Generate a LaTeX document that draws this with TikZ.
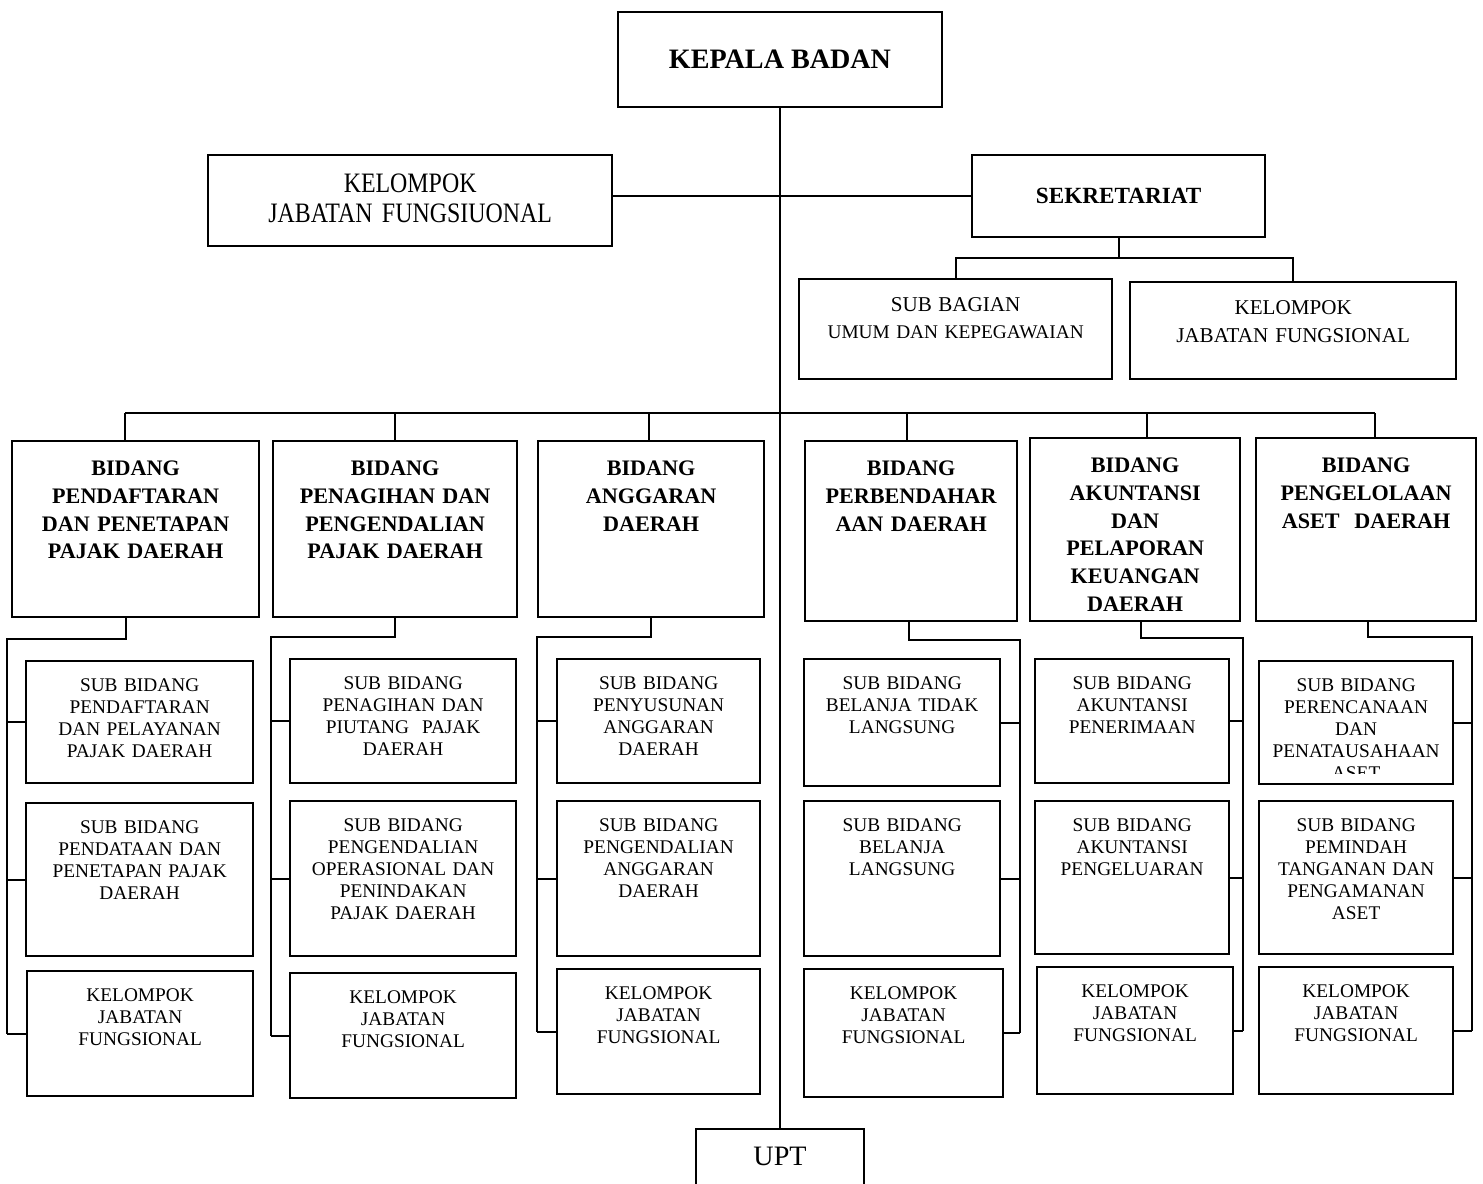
\documentclass[tikz,border=0pt]{standalone}
\usepackage{fontspec}
\setmainfont{Liberation Serif}
\newfontfamily\narrowserif[FakeStretch=0.85]{Liberation Serif}
\usetikzlibrary{calc}
\tikzset{box/.style={draw,line width=1.3pt,inner sep=0pt,align=center},
bid/.style={box,anchor=north west,text height=6.8mm,font=\fontsize{12.6}{15.9}\selectfont\bfseries},
sub/.style={box,anchor=north west,text height=6mm,font=\fontsize{11}{12.5}\selectfont},
link/.style={line width=1pt}}

\begin{document}
\begin{tikzpicture}[x=0.2mm,y=-0.2mm]
\useasboundingbox (0,0) rectangle (1483,1184);
% top level
\node[box,anchor=north,minimum width=64.8mm,minimum height=19mm,font=\fontsize{16}{19}\selectfont\bfseries] (kb) at (780,11) {KEPALA BADAN};
\node[box,anchor=north west,text width=80.8mm,text height=7.5mm,text depth=10.7mm,font=\narrowserif\fontsize{16}{17}\selectfont] (kjf) at (207,154) {KELOMPOK\\JABATAN FUNGSIUONAL};
\node[box,anchor=north west,minimum width=58.6mm,minimum height=16.4mm,font=\fontsize{13.2}{16}\selectfont\bfseries] (sek) at (971,154) {SEKRETARIAT};
\node[box,anchor=north west,text width=62.6mm,text height=6.5mm,text depth=13.5mm,font=\fontsize{11}{15.3}\selectfont] (sbu) at (798,278) {{\fontsize{12}{15.3}\selectfont SUB BAGIAN}\\UMUM DAN KEPEGAWAIAN};
\node[box,anchor=north west,text width=65.2mm,text height=6.4mm,text depth=13mm,font=\fontsize{12}{16.4}\selectfont] (kjs) at (1129,281) {KELOMPOK\\JABATAN FUNGSIONAL};
\node[box,anchor=north,text width=33.6mm,text height=7.2mm,text depth=12mm,font=\fontsize{16}{19}\selectfont] (upt) at (780,1128) {UPT};
% bidang
\node[bid,text width=49.4mm,text depth=28.4mm] (b1) at (11,440) {BIDANG\\PENDAFTARAN\\DAN PENETAPAN\\PAJAK DAERAH};
\node[bid,text width=48.8mm,text depth=28.4mm] (b2) at (272,440) {BIDANG\\PENAGIHAN DAN\\PENGENDALIAN\\PAJAK DAERAH};
\node[bid,text width=45.2mm,text depth=28.4mm] (b3) at (537,440) {BIDANG\\ANGGARAN\\DAERAH};
\node[bid,text width=42.4mm,text depth=29.2mm] (b4) at (804,440) {BIDANG\\PERBENDAHAR\\AAN DAERAH};
\node[bid,text width=42mm,text depth=29.8mm] (b5) at (1029,437) {BIDANG\\AKUNTANSI\\DAN\\PELAPORAN\\KEUANGAN\\DAERAH};
\node[bid,text width=44mm,text depth=29.8mm] (b6) at (1255,437) {BIDANG\\PENGELOLAAN\\ASET\ \ DAERAH};
% sub bidang
\node[sub,text width=45.4mm,text depth=18.4mm] (s11) at (25,660) {SUB BIDANG\\PENDAFTARAN\\DAN PELAYANAN\\PAJAK DAERAH};
\node[sub,text width=45.4mm,text depth=24.6mm] (s12) at (25,802) {SUB BIDANG\\PENDATAAN DAN\\PENETAPAN PAJAK\\DAERAH};
\node[sub,text width=45.2mm,text depth=19mm] (s13) at (26,970) {KELOMPOK\\JABATAN\\FUNGSIONAL};
\node[sub,text width=45.2mm,text depth=18.8mm] (s21) at (289,658) {SUB BIDANG\\PENAGIHAN DAN\\PIUTANG\ \ PAJAK\\DAERAH};
\node[sub,text width=45.2mm,text depth=25mm] (s22) at (289,800) {SUB BIDANG\\PENGENDALIAN\\OPERASIONAL DAN\\PENINDAKAN\\PAJAK DAERAH};
\node[sub,text width=45.2mm,text depth=19mm] (s23) at (289,972) {KELOMPOK\\JABATAN\\FUNGSIONAL};
\node[sub,text width=40.6mm,text depth=18.8mm] (s31) at (556,658) {SUB BIDANG\\PENYUSUNAN\\ANGGARAN\\DAERAH};
\node[sub,text width=40.6mm,text depth=25mm] (s32) at (556,800) {SUB BIDANG\\PENGENDALIAN\\ANGGARAN\\DAERAH};
\node[sub,text width=40.6mm,text depth=19mm] (s33) at (556,968) {KELOMPOK\\JABATAN\\FUNGSIONAL};
\node[sub,text width=39.2mm,text depth=19.4mm] (s41) at (803,658) {SUB BIDANG\\BELANJA TIDAK\\LANGSUNG};
\node[sub,text width=39.2mm,text depth=25mm] (s42) at (803,800) {SUB BIDANG\\BELANJA\\LANGSUNG};
\node[sub,text width=39.8mm,text depth=19.6mm] (s43) at (803,968) {KELOMPOK\\JABATAN\\FUNGSIONAL};
\node[sub,text width=38.8mm,text depth=18.8mm] (s51) at (1034,658) {SUB BIDANG\\AKUNTANSI\\PENERIMAAN};
\node[sub,text width=38.8mm,text depth=24.6mm] (s52) at (1034,800) {SUB BIDANG\\AKUNTANSI\\PENGELUARAN};
\node[sub,text width=39.2mm,text depth=19.4mm] (s53) at (1036,966) {KELOMPOK\\JABATAN\\FUNGSIONAL};
\node[sub,text width=38.8mm,text depth=18.6mm] (s61) at (1258,660) {SUB BIDANG\\PERENCANAAN\\DAN\\PENATAUSAHAAN\\ASET};
\node[sub,text width=38.8mm,text depth=24.6mm] (s62) at (1258,800) {SUB BIDANG\\PEMINDAH\\TANGANAN DAN\\PENGAMANAN\\ASET};
\node[sub,text width=38.8mm,text depth=19.4mm] (s63) at (1258,966) {KELOMPOK\\JABATAN\\FUNGSIONAL};
\fill[white] ([shift={(0.4mm,0.4mm)}]s61.south west) rectangle ([shift={(-0.4mm,2.2mm)}]s61.south east);
% trunk and sekretariat
\draw[link] (kb.south) -- (upt.north);
\draw[link] (kjf.east |- sek.west) -- (sek.west);
\path (sek.south) ++(0,20) coordinate (sj);
\draw[link] (sek.south) -- (sj);
\draw[link] (sbu.north) |- (sj) -| (kjs.north);
% bus to bidang
\coordinate (d1) at (125,413);
\coordinate (d2) at (395,413);
\coordinate (d3) at (649,413);
\coordinate (d4) at (907,413);
\coordinate (d5) at (1147,413);
\coordinate (d6) at (1375,413);
\draw[link] (d1) -- (d6);
\foreach \c in {1,...,6} \draw[link] (d\c) -- (d\c |- b\c.north);
% bidang to sub bidang
\coordinate (k1) at (126,639); \coordinate (v1) at (7,639);
\coordinate (k2) at (395,637); \coordinate (v2) at (271,637);
\coordinate (k3) at (651,637); \coordinate (v3) at (537,637);
\coordinate (k4) at (909,640); \coordinate (v4) at (1020,640);
\coordinate (k5) at (1141,638); \coordinate (v5) at (1243,638);
\coordinate (k6) at (1368,637); \coordinate (v6) at (1472,637);
\foreach \c in {1,2,3}{
  \draw[link] (k\c |- b\c.south) -- (k\c) -- (v\c) -- (v\c |- s\c3.west);
  \foreach \r in {1,2,3} \draw[link] (v\c |- s\c\r.west) -- (s\c\r.west);
}
\foreach \c in {4,5,6}{
  \draw[link] (k\c |- b\c.south) -- (k\c) -- (v\c) -- (v\c |- s\c3.east);
  \foreach \r in {1,2,3} \draw[link] (s\c\r.east) -- (v\c |- s\c\r.east);
}
\end{tikzpicture}
\end{document}
